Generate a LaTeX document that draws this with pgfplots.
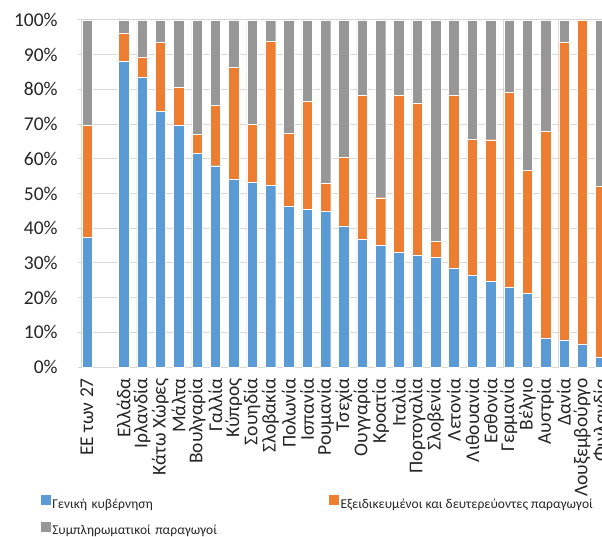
\documentclass[border=0pt]{standalone}
\usepackage{fontspec}
\setmainfont{Carlito}
\usepackage{pgfplots}
\usepackage{pgfplotstable}
\pgfplotsset{compat=1.18}
\definecolor{cblue}{HTML}{5B9BD5}
\definecolor{corange}{HTML}{ED7D31}
\definecolor{cgray}{HTML}{979797}
\definecolor{cgrid}{HTML}{D9D9D9}
\definecolor{ctext}{HTML}{262626}
\pgfplotstableread{
x g e s
0 37.3 32.4 30.3
2 88.0 8.3 3.7
3 83.5 5.9 10.6
4 73.7 19.9 6.4
5 69.6 11.0 19.4
6 61.5 5.6 32.9
7 58.0 17.4 24.6
8 54.2 32.1 13.7
9 53.3 16.6 30.1
10 52.4 41.5 6.1
11 46.4 20.9 32.7
12 45.4 31.1 23.5
13 44.8 8.2 47.0
14 40.7 19.7 39.6
15 36.8 41.4 21.8
16 35.0 13.8 51.2
17 33.1 45.3 21.6
18 32.3 43.8 23.9
19 31.7 4.6 63.7
20 28.6 49.8 21.6
21 26.5 39.1 34.4
22 24.6 40.9 34.5
23 22.9 56.2 20.9
24 21.3 35.4 43.3
25 8.4 59.5 32.1
26 7.8 85.8 6.4
27 6.7 93.3 0.0
28 2.9 49.3 47.8
}\data
\begin{document}
\begin{tikzpicture}
\begin{axis}[
  at={(77.8pt,169pt)}, anchor=south west,
  width=532pt, height=347pt, scale only axis,
  ybar stacked, bar width=10.5pt,
  xmin=-0.5, xmax=28.5, ymin=0, ymax=100,
  axis line style={draw=none},
  major tick length=0pt,
  ymajorgrids, grid style={cgrid, line width=1pt},
  ytick={0,10,20,30,40,50,60,70,80,90,100},
  yticklabel={\pgfmathprintnumber{\tick}\%},
  /pgf/number format/assume math mode=true,
  yticklabel style={font=\fontsize{19.5}{22}\selectfont, text=ctext, inner sep=0pt, xshift=-20pt},
  xtick={0,2,3,4,5,6,7,8,9,10,11,12,13,14,15,16,17,18,19,20,21,22,23,24,25,26,27,28},
  xticklabels={ΕΕ των 27, Ελλάδα, Ιρλανδία, Κάτω Χώρες, Μάλτα, Βουλγαρία, Γαλλία, Κύπρος, Σουηδία, Σλοβακία, Πολωνία, Ισπανία, Ρουμανία, Τσεχία, Ουγγαρία, Κροατία, Ιταλία, Πορτογαλία, Σλοβενία, Λετονία, Λιθουανία, Εσθονία, Γερμανία, Βέλγιο, Αυστρία, Δανία, Λουξεμβούργο, Φινλανδία},
  xticklabel style={font=\fontsize{19.5}{22}\selectfont, text=ctext, inner sep=0pt, yshift=-11pt, rotate=90, anchor=east},
  legend style={at={(-0.0692,-0.3703)}, anchor=north west, draw=none, fill=none,
    inner sep=0pt, outer sep=0pt, legend columns=2, column sep=2pt, row sep=11pt,
    font=\fontsize{13.5}{16}\selectfont, text=ctext,
    nodes={inner sep=0pt, text height=10pt, text depth=3pt},
    /tikz/column 2/.style={nodes={text width=275pt}}},
]
\addplot[fill=cblue, draw=white, line width=0.3pt, legend image code/.code={\fill[cblue] (0pt,0pt) rectangle (9pt,9pt);}] table[x=x, y=g] {\data};
\addplot[fill=corange, draw=white, line width=0.3pt, legend image code/.code={\fill[corange] (0pt,0pt) rectangle (9pt,9pt);}] table[x=x, y=e] {\data};
\addplot[fill=cgray, draw=white, line width=0.3pt, legend image code/.code={\fill[cgray] (0pt,0pt) rectangle (9pt,9pt);}] table[x=x, y=s] {\data};
\legend{Γενική κυβέρνηση, Εξειδικευμένοι και δευτερεύοντες παραγωγοί, Συμπληρωματικοί παραγωγοί}
\end{axis}
\pgfresetboundingbox
\path[use as bounding box] (0pt,0pt) rectangle (602pt,536pt);
\end{tikzpicture}
\end{document}
